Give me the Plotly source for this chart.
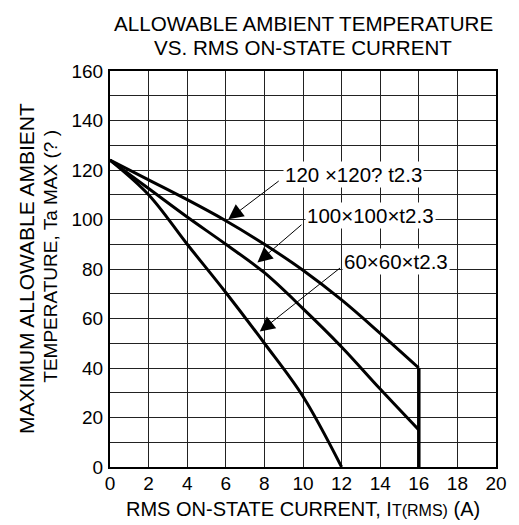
import plotly.graph_objects as go

# Data
current_grid = [0, 2, 4, 6, 8, 10, 12, 14, 16]
ta_120 = [124, 116, 108, 99.5, 90, 79.5, 67.5, 54, 40]
ta_100 = [124, 112.5, 101, 90, 78.5, 64, 48.5, 31.5, 15]
current_60 = [0, 2, 4, 6, 8, 10, 12]
ta_60 = [124, 110, 90, 70.5, 50, 28.5, 0]
limit_x = [16, 16]
limit_y = [40, 0]

labels = ["120 ×120? t2.3", "100×100×t2.3", "60×60×t2.3"]
label_pos = [(8.97, 118.0), (10.1, 101.8), (12.03, 83.2)]
arrow_tail = [(8.82, 116.0), (10.0, 98.4), (12.0, 80.9)]
arrow_tip = [(6.13, 100.1), (7.64, 82.6), (7.76, 54.7)]

x_ticks = list(range(0, 21, 2))
y_ticks = list(range(0, 161, 20))

FONT = "Liberation Sans, Arial, sans-serif"

fig = go.Figure()
line = dict(color="black", width=3, shape="spline", smoothing=1.0)
fig.add_trace(go.Scatter(x=current_grid, y=ta_120, mode="lines", line=line))
fig.add_trace(go.Scatter(x=current_grid, y=ta_100, mode="lines", line=line))
fig.add_trace(go.Scatter(x=current_60, y=ta_60, mode="lines", line=line))
fig.add_trace(go.Scatter(x=limit_x, y=limit_y, mode="lines", line=dict(color="black", width=3.5)))

annotations = []
for (tx, ty), (hx, hy) in zip(arrow_tail, arrow_tip):
    annotations.append(dict(x=hx, y=hy, ax=tx, ay=ty, xref="x", yref="y", axref="x", ayref="y",
                            text="", showarrow=True, arrowhead=2, arrowsize=3, arrowwidth=1,
                            arrowcolor="black"))
for txt, (lx, ly) in zip(labels, label_pos):
    annotations.append(dict(x=lx, y=ly, xref="x", yref="y", text=txt, showarrow=False,
                            xanchor="left", yanchor="middle", bgcolor="white", borderpad=1,
                            font=dict(family=FONT, size=20.5, color="black")))

# Titles
annotations += [
    dict(x=0.5, y=(467 - 24) / 396, xref="paper", yref="paper", text="ALLOWABLE AMBIENT TEMPERATURE",
         showarrow=False, xanchor="center", yanchor="middle", font=dict(family=FONT, size=20.6, color="black")),
    dict(x=0.5, y=(467 - 47) / 396, xref="paper", yref="paper", text="VS. RMS ON-STATE CURRENT",
         showarrow=False, xanchor="center", yanchor="middle", font=dict(family=FONT, size=20.6, color="black")),
    dict(x=0.5, y=(467 - 509) / 396, xref="paper", yref="paper",
         text="RMS ON-STATE CURRENT, I<span style='font-size:16px'>T(RMS)</span> (A)",
         showarrow=False, xanchor="center", yanchor="middle", font=dict(family=FONT, size=20, color="black")),
    dict(x=(24 - 110) / 397, y=(467 - 268.5) / 396, xref="paper", yref="paper", text="MAXIMUM ALLOWABLE AMBIENT",
         textangle=-90, showarrow=False, xanchor="center", yanchor="middle",
         font=dict(family=FONT, size=21, color="black")),
    dict(x=(49 - 110) / 397, y=(467 - 256) / 396, xref="paper", yref="paper", text="TEMPERATURE, Ta MAX (? )",
         textangle=-90, showarrow=False, xanchor="center", yanchor="middle",
         font=dict(family=FONT, size=19, color="black")),
]

# The page body has an 8px margin, so the figure is sized/offset to compensate
fig.update_layout(
    width=511, height=517, autosize=False,
    margin=dict(l=102, r=12, t=63, b=58),
    paper_bgcolor="white", plot_bgcolor="white",
    showlegend=False,
    font=dict(family=FONT, size=19, color="black"),
    annotations=annotations,
)
fig.update_xaxes(range=[0, 20], tickvals=x_ticks, showgrid=True, gridcolor="#222", gridwidth=1,
                 zeroline=False, showline=True, linecolor="black", linewidth=2, mirror=True,
                 ticks="", ticklabelstandoff=-2, tickfont=dict(family=FONT, size=19, color="black"))
fig.update_yaxes(range=[0, 160], tickvals=y_ticks, showgrid=True, gridcolor="#222", gridwidth=1,
                 minor=dict(dtick=10, tick0=0, showgrid=True, gridcolor="#222", gridwidth=1),
                 zeroline=False, showline=True, linecolor="black", linewidth=2, mirror=True,
                 ticks="", ticklabelstandoff=1, tickfont=dict(family=FONT, size=19, color="black"))

fig.write_html("out.html")
